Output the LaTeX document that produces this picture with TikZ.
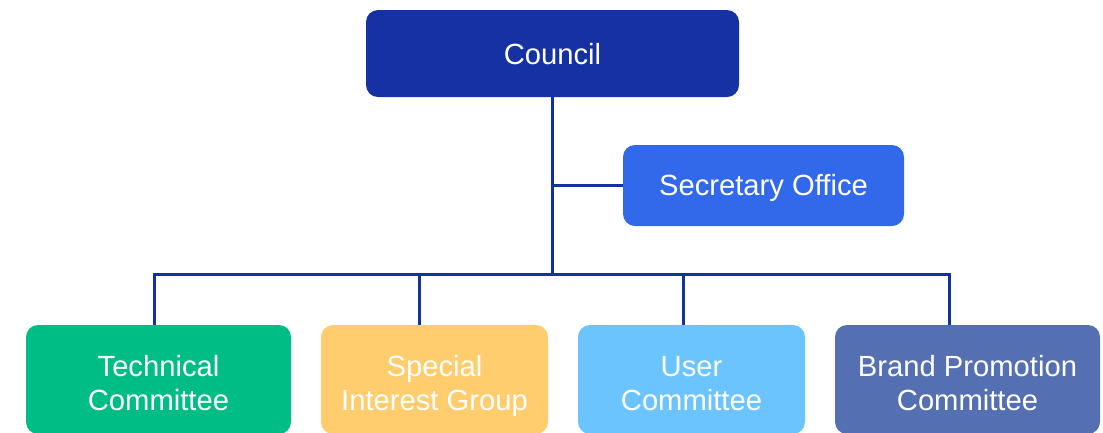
\documentclass[tikz,border=0pt]{standalone}
\usepackage{fontspec}
\setmainfont{Liberation Sans}
\definecolor{councilc}{HTML}{1531A3}
\definecolor{secc}{HTML}{3269EB}
\definecolor{techc}{HTML}{00BD85}
\definecolor{sigc}{HTML}{FFCD6E}
\definecolor{userc}{HTML}{6CC4FF}
\definecolor{brandc}{HTML}{5470B2}
\definecolor{linec}{HTML}{12349A}
\newcommand\lnstrut{\rule[-7pt]{0pt}{34pt}}
\begin{document}
\begin{tikzpicture}[x=1pt,y=-1pt,
  box/.style={rounded corners=12pt,draw=none},
  lbl/.style={text=white,font=\fontsize{29.2}{34}\selectfont,align=center,inner sep=0pt},
  conn/.style={draw=linec,line width=3pt}]
\useasboundingbox (0,0) rectangle (1103,432);
\begin{scope}
\clip (0,0) rectangle (1103,432);
\fill[box,councilc] (366,10) rectangle (739,97);
\fill[box,secc] (623,145) rectangle (904,226);
\fill[box,techc] (26,325) rectangle (291,434);
\fill[box,sigc] (321,325) rectangle (548,434);
\fill[box,userc] (578,325) rectangle (805,434);
\fill[box,brandc] (835,325) rectangle (1100,434);
\end{scope}
\node[lbl] (council) at (552.5,54) {\lnstrut Council};
\node[lbl] (sec) at (763.5,185) {\lnstrut Secretary Office};
\node[lbl] (tech) at (158.5,383) {\lnstrut Technical\\\lnstrut Committee};
\node[lbl] (sig) at (434.5,383) {\lnstrut Special\\\lnstrut Interest Group};
\node[lbl] (user) at (691.5,383) {\lnstrut User\\\lnstrut Committee};
\node[lbl] (brand) at (967.5,383) {\lnstrut Brand Promotion\\\lnstrut Committee};
\coordinate (ctop) at (552.5,97);
\coordinate (jn) at (552.5,274.5);
\coordinate (secj) at (552.5,185.5);
\coordinate (secl) at (623,185.5);
\coordinate (t1) at (154.5,324.5);
\coordinate (t2) at (419,324.5);
\coordinate (t3) at (683,324.5);
\coordinate (t4) at (949,324.5);
\draw[conn] (ctop) -- (jn);
\draw[conn] (secj) -- (secl);
\draw[conn] (t1) |- (jn) -| (t4);
\draw[conn] (t2) -- (t2 |- jn);
\draw[conn] (t3) -- (t3 |- jn);
\end{tikzpicture}
\end{document}
